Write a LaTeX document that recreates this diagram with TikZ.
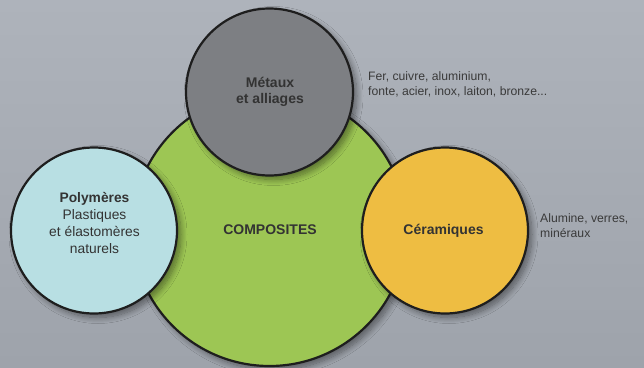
\documentclass[tikz,border=0pt]{standalone}
\usepackage{fontspec}
\setmainfont{Liberation Sans}
\usetikzlibrary{shadows.blur}
\definecolor{bgtop}{HTML}{AEB3BB}
\definecolor{bgbot}{HTML}{9EA3AB}
\definecolor{edgec}{HTML}{1E1E1E}
\definecolor{metal}{HTML}{7D7F83}
\definecolor{compo}{HTML}{9DC654}
\definecolor{poly}{HTML}{B8DFE3}
\definecolor{cera}{HTML}{EEBD42}
\definecolor{txt}{HTML}{333333}
\definecolor{sidetxt}{HTML}{3A3A3A}
\begin{document}
\begin{tikzpicture}[x=1pt,y=-1pt,
  disc/.style={circle, draw=edgec, line width=2.2pt, inner sep=0pt,
    blur shadow={shadow xshift=4pt, shadow yshift=-4pt, shadow blur radius=6pt,
      shadow blur steps=12, shadow opacity=45}},
  intext/.style={text=txt, align=center, font=\fontsize{14}{16}\selectfont\bfseries},
  polytext/.style={text=txt, align=center, font=\fontsize{13.8}{16.7}\selectfont},
  sidenote/.style={text=sidetxt, align=left, anchor=west, inner sep=0pt,
    font=\fontsize{12.2}{15}\selectfont}]
\fill[top color=bgtop, bottom color=bgbot] (0,0) rectangle (644,367);
\useasboundingbox (0,0) rectangle (644,367);

\node[disc, fill=compo, minimum size=274pt] (compo) at (269.5,229) {};
\node[disc, fill=poly, minimum size=166pt] (poly) at (94,230.5) {};
\node[disc, fill=cera, minimum size=166pt] (cera) at (445,230.5) {};
\node[disc, fill=metal, minimum size=167pt] (metal) at (269.5,92) {};

\node[intext] (tcompo) at (270,230) {COMPOSITES};
\node[intext] (tcera) at (443.5,231) {Céramiques};
\node[intext] (tmetal) at (270,91.5) {Métaux\\et alliages};
\node[polytext] (tpoly) at (94.5,223) {\textbf{Polymères}\\Plastiques\\et élastomères\\naturels};

\node[sidenote] (nmetal) at (368,84) {Fer, cuivre, aluminium,\\fonte, acier, inox, laiton, bronze...};
\node[sidenote] (ncera) at (540,225.5) {Alumine, verres,\\minéraux};
\end{tikzpicture}
\end{document}
